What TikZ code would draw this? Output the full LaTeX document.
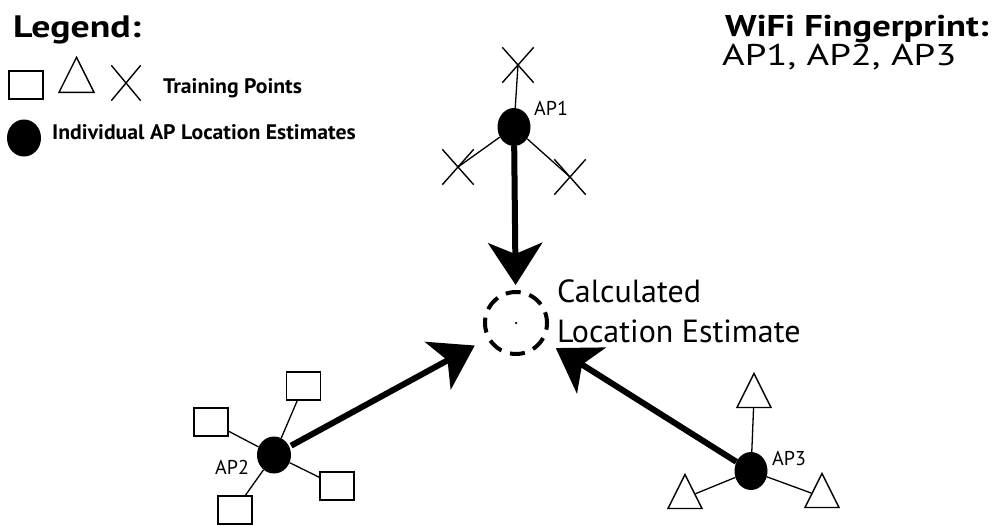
\documentclass[tikz,border=0pt]{standalone}
\usepackage{fontspec}
\setmainfont{PT Sans}
\newfontfamily\headbf[FakeStretch=1.22]{PT Sans Bold}
\newfontfamily\headrm[FakeStretch=1.29]{PT Sans}
\newfontfamily\legbf[FakeStretch=1.035]{PT Sans Bold}
\usepackage{tikz}
\usetikzlibrary{arrows.meta,positioning,shapes.geometric,shapes.misc}

\begin{document}
\begin{tikzpicture}[x=1pt,y=-1pt,>=Stealth,
  txt/.style={inner sep=0pt,anchor=base west},
  apnode/.style={ellipse,fill=black,minimum width=33pt,minimum height=38pt,inner sep=0pt},
  sqpt/.style={draw,line width=1.4pt,minimum width=34pt,minimum height=28pt,inner sep=0pt},
  tript/.style={draw,line width=1.4pt,isosceles triangle,isosceles triangle stretches,
    shape border rotate=90,minimum width=34pt,minimum height=34pt,inner sep=0pt},
  xpt/.style={draw,line width=1.4pt,cross out,minimum width=30pt,minimum height=34pt,inner sep=0pt},
  spoke/.style={line width=1.3pt},
  toest/.style={->,line width=6pt,
    arrows={-Stealth[length=42pt,width=54pt,inset=11pt]}}]
  \useasboundingbox (0,0) rectangle (999,525);

  % legend
  \node[txt,font=\headbf\fontsize{31}{36}\selectfont] (legend) at (13,37) {Legend:};
  \node[sqpt] (lsq) at (26,85) {};
  \node[tript,minimum width=35pt,minimum height=35pt] (ltri) at (76.5,81.5) {};
  \node[xpt,minimum width=28pt] (lx) at (126,83) {};
  \node[txt,font=\legbf\fontsize{21}{24}\selectfont] (ltrain) at (163,93) {Training Points};
  \node[apnode,minimum width=34pt,minimum height=37pt] (lap) at (24,138) {};
  \node[txt,font=\legbf\fontsize{21}{24}\selectfont] (lapest) at (52,139) {Individual AP Location Estimates};

  % fingerprint
  \node[txt,font=\headbf\fontsize{30}{36}\selectfont] (wifi) at (725,36) {WiFi Fingerprint:};
  \node[txt,font=\headrm\fontsize{30}{36}\selectfont] (aplist) at (722,65) {AP1, AP2, AP3};

  % calculated estimate
  \node[circle,draw,line width=4pt,dash pattern=on 15pt off 9pt,dash phase=4pt,
    minimum size=62pt,inner sep=0pt] (est) at (516,323) {};
  \node[circle,fill=black,minimum size=2.5pt,inner sep=0pt] (estdot) at (est.center) {};
  \node[txt,align=left,font=\fontsize{32}{40}\selectfont] (calc) at (557,342)
    {Calculated\\Location Estimate};

  % AP1 with crosses
  \node[apnode] (ap1) at (514,127) {};
  \node[txt,font=\fontsize{20}{22}\selectfont] (ap1lab) at (534,115) {AP1};
  \node[xpt] (x1) at (518,65) {};
  \node[xpt] (x2) at (458,167) {};
  \node[xpt] (x3) at (570,177) {};
  \foreach \p in {x1,x2,x3}
    \draw[spoke] (ap1) -- (\p.center);

  % AP2 with squares
  \node[apnode,minimum width=34pt,minimum height=37pt] (ap2) at (274,455) {};
  \node[txt,font=\fontsize{20}{22}\selectfont] (ap2lab) at (215,474) {AP2};
  \node[sqpt] (s1) at (303.5,386) {};
  \node[sqpt] (s2) at (211,422) {};
  \node[sqpt] (s3) at (337,486) {};
  \node[sqpt] (s4) at (235,510) {};
  \foreach \p in {s1,s2,s3,s4}
    \draw[spoke] (ap2) -- (\p);

  % AP3 with triangles
  \node[apnode] (ap3) at (751,471) {};
  \node[txt,font=\fontsize{20}{22}\selectfont] (ap3lab) at (772,465) {AP3};
  \node[tript] (t1) at (754,397) {};
  \node[tript] (t2) at (685,498) {};
  \node[tript] (t3) at (822,497) {};
  \foreach \p in {t1,t2,t3}
    \draw[spoke] (ap3) -- (\p);

  % arrows to the estimate
  \draw[toest,shorten >=5pt] (ap1) -- (est);
  \draw[toest,shorten <=2pt,shorten >=14pt] (ap2) -- (est);
  \draw[toest,shorten >=14pt] (ap3) -- (est);
\end{tikzpicture}
\end{document}
